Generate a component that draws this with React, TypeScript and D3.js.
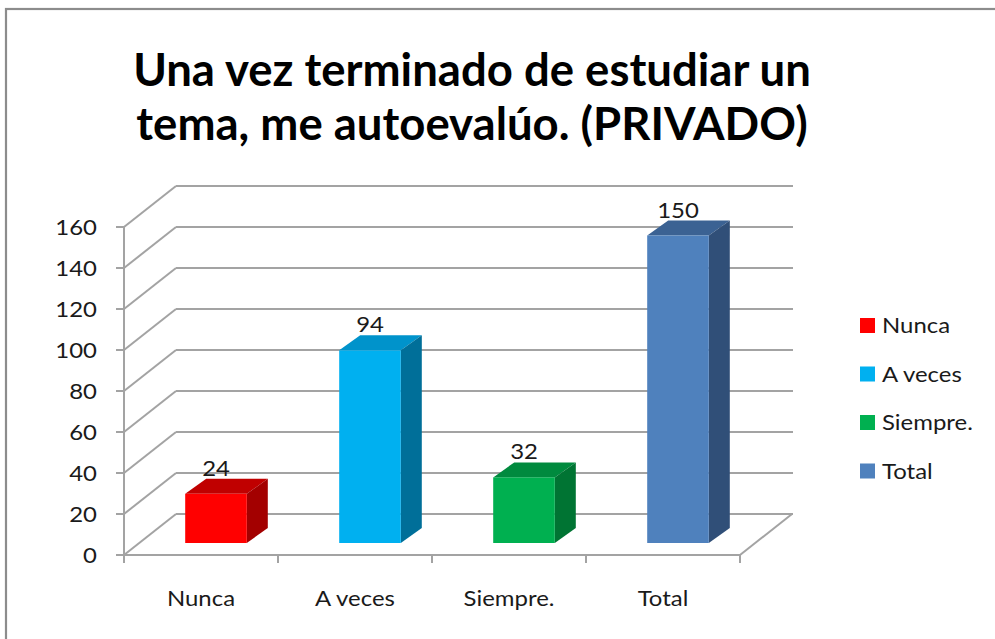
import React from "react";
import * as d3 from "d3";

const categories = ["Nunca", "A veces", "Siempre.", "Total"];
const values = [24, 94, 32, 150];
const yTicks = [0, 20, 40, 60, 80, 100, 120, 140, 160];
const frontColors = ["#FF0000", "#00B0F0", "#00B050", "#4F81BD"];
const topColors = ["#C00000", "#0093CB", "#008A3E", "#3B6293"];
const sideColors = ["#A30000", "#006F99", "#007433", "#304F78"];
const titleLines = ["Una vez terminado de estudiar un", "tema, me autoevalúo. (PRIVADO)"];

const W = 995;
const H = 639;
const FONT = "Lato, 'Open Sans', sans-serif";
const SX = 1.14;

function Label(props: { x: number; y: number; anchor?: string; dy?: string; children: React.ReactNode }) {
  return (
    <text
      transform={`translate(${props.x},${props.y}) scale(${SX},1)`}
      dy={props.dy}
      textAnchor={props.anchor || "start"}
      fontFamily={FONT}
      fontSize={21}
      fill="#1a1a1a"
    >
      {props.children}
    </text>
  );
}

export default function App() {
  const x = d3
    .scaleBand<string>()
    .domain(categories)
    .range([124, 740])
    .paddingInner(0.6)
    .paddingOuter(0.3);
  const y = d3.scaleLinear().domain([0, 160]).range([555, 227]);

  const D = { dx: 52, dy: -41 };
  const b0 = { dx: 15, dy: -12 };
  const b1 = { dx: 36, dy: -27 };
  const step = x.step();
  const x0 = 124;
  const x1 = 740;
  const grid = "#a3a3a3";
  const bw = x.bandwidth();

  return (
    <svg width={W} height={H} style={{ display: "block", position: "absolute", left: 0, top: 0 }}>
      <rect x={0} y={0} width={W} height={H} fill="#fff" />
      <rect x={6} y={9} width={W + 10} height={H + 10} fill="none" stroke="#8c8c8c" strokeWidth={2.2} />

      {titleLines.map((t, i) => (
        <text
          key={i}
          x={472}
          y={86 + i * 54}
          textAnchor="middle"
          fontFamily={FONT}
          fontWeight={700}
          fontSize={45.5}
          fill="#000"
        >
          {t}
        </text>
      ))}

      {yTicks.map((t) => (
        <g key={t}>
          <line x1={x0 + D.dx} x2={x1 + D.dx + 1} y1={y(t) + D.dy} y2={y(t) + D.dy} stroke={grid} strokeWidth={2} />
          <line x1={x0} x2={x0 + D.dx} y1={y(t)} y2={y(t) + D.dy} stroke={grid} strokeWidth={2} />
        </g>
      ))}
      <line x1={x1} x2={x1 + D.dx} y1={y(0)} y2={y(0) + D.dy} stroke={grid} strokeWidth={2} />
      <line x1={x0} x2={x1} y1={y(0)} y2={y(0)} stroke={grid} strokeWidth={2} />
      <line x1={x0} x2={x0} y1={y(160)} y2={y(0) + 8} stroke={grid} strokeWidth={2} />
      {yTicks.map((t) => (
        <g key={"t" + t}>
          <line x1={x0 - 8} x2={x0} y1={y(t)} y2={y(t)} stroke={grid} strokeWidth={2} />
          <Label x={97} y={y(t)} dy="0.36em" anchor="end">
            {t}
          </Label>
        </g>
      ))}
      {categories.map((c, i) => (
        <line
          key={"xt" + c}
          x1={x0 + (i + 1) * step}
          x2={x0 + (i + 1) * step}
          y1={y(0)}
          y2={y(0) + 8}
          stroke={grid}
          strokeWidth={2}
        />
      ))}

      {categories.map((c, i) => {
        const v = values[i];
        const fx = (x(c) as number) + b0.dx;
        const fyTop = y(v) + b0.dy;
        const fyBot = y(0) + b0.dy;
        const ddx = b1.dx - b0.dx;
        const ddy = b1.dy - b0.dy;
        const top = `M${fx},${fyTop}L${fx + ddx},${fyTop + ddy}L${fx + bw + ddx},${fyTop + ddy}L${fx + bw},${fyTop}Z`;
        const side = `M${fx + bw},${fyTop}L${fx + bw + ddx},${fyTop + ddy}L${fx + bw + ddx},${fyBot + ddy}L${fx + bw},${fyBot}Z`;
        return (
          <g key={c}>
            <path d={top} fill={topColors[i]} />
            <path d={side} fill={sideColors[i]} />
            <rect x={fx} y={fyTop} width={bw} height={fyBot - fyTop} fill={frontColors[i]} />
            <Label x={fx + bw / 2} y={fyTop - 18} anchor="middle">
              {v}
            </Label>
          </g>
        );
      })}

      {categories.map((c) => (
        <Label key={"xl" + c} x={(x(c) as number) + bw / 2} y={606} anchor="middle">
          {c}
        </Label>
      ))}

      {categories.map((c, i) => (
        <g key={"lg" + c} transform={`translate(860, ${318 + i * 48.5})`}>
          <rect x={0} y={0} width={15} height={15} fill={frontColors[i]} />
          <Label x={22} y={7.5} dy="0.36em">
            {c}
          </Label>
        </g>
      ))}
    </svg>
  );
}
